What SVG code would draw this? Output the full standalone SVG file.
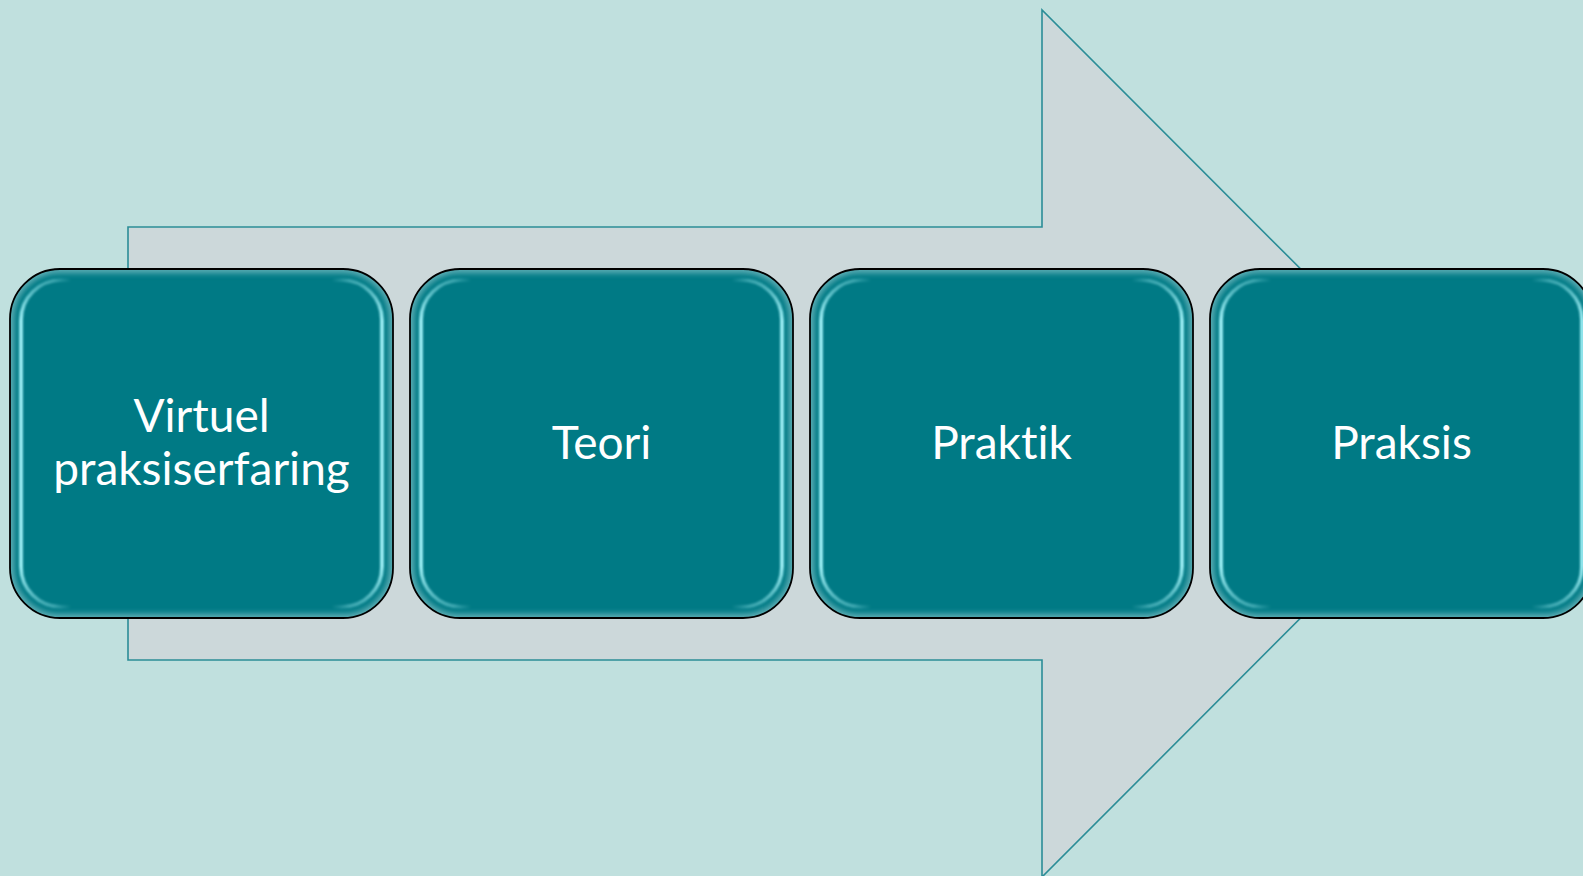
<svg xmlns="http://www.w3.org/2000/svg" width="1583" height="876" viewBox="0 0 1583 876">
  <style>
    .bg { fill: #C0E0DE; }
    .arrow { fill: #CCD8DA; stroke: #2B8D97; stroke-width: 1.6; }
    .box { fill: #007A85; stroke: none; }
    .edge { fill: none; stroke: #000; stroke-width: 1.8; }
    .rim { fill: none; stroke: #6FB8BE; stroke-width: 7; filter: url(#soft3); }
    .glint { fill: none; stroke: url(#glintGrad); stroke-width: 3.6; filter: url(#soft1); }
    .label { font-family: Lato, "Noto Sans", "Liberation Sans", sans-serif; font-size: 46px; fill: #FFFFFF; text-anchor: middle; font-variant-ligatures: none; font-feature-settings: "liga" 0, "clig" 0; }
  </style>
  <defs>
    <clipPath id="boxClip">
      <rect x="0" y="0" width="383" height="349" rx="50" ry="50"/>
    </clipPath>
    <filter id="soft3" x="-10%" y="-10%" width="120%" height="120%">
      <feGaussianBlur stdDeviation="3"/>
    </filter>
    <filter id="soft1" x="-10%" y="-10%" width="120%" height="120%">
      <feGaussianBlur stdDeviation="0.9"/>
    </filter>
    <!-- bright cyan streaks along the left and right inner sides -->
    <linearGradient id="glintGrad" x1="0" y1="0" x2="1" y2="0">
      <stop offset="0" stop-color="#A6F6FC" stop-opacity="1"/>
      <stop offset="0.09" stop-color="#A6F6FC" stop-opacity="0.95"/>
      <stop offset="0.14" stop-color="#A6F6FC" stop-opacity="0"/>
      <stop offset="0.86" stop-color="#A6F6FC" stop-opacity="0"/>
      <stop offset="0.91" stop-color="#A6F6FC" stop-opacity="0.95"/>
      <stop offset="1" stop-color="#A6F6FC" stop-opacity="1"/>
    </linearGradient>
    <!-- fades the streaks toward the top and bottom edges -->
    <linearGradient id="fadeGrad" x1="0" y1="0" x2="0" y2="1">
      <stop offset="0" stop-color="#fff" stop-opacity="0.2"/>
      <stop offset="0.15" stop-color="#fff" stop-opacity="1"/>
      <stop offset="0.85" stop-color="#fff" stop-opacity="1"/>
      <stop offset="1" stop-color="#fff" stop-opacity="0.2"/>
    </linearGradient>
    <mask id="fadeMask" maskUnits="userSpaceOnUse" x="0" y="0" width="383" height="349">
      <rect x="0" y="0" width="383" height="349" fill="url(#fadeGrad)"/>
    </mask>
    <!-- shared bevelled tile -->
    <g id="tile">
      <rect class="box" x="0" y="0" width="383" height="349" rx="50" ry="50"/>
      <g clip-path="url(#boxClip)">
        <rect class="rim" x="0" y="0" width="383" height="349" rx="50" ry="50"/>
        <rect class="glint" x="11" y="11" width="361" height="327" rx="40" ry="40" mask="url(#fadeMask)"/>
      </g>
      <rect class="edge" x="0" y="0" width="383" height="349" rx="50" ry="50"/>
    </g>
  </defs>

  <rect class="bg" x="0" y="0" width="1583" height="876"/>

  <!-- background process arrow -->
  <g id="connectors">
    <polygon class="arrow" points="128,227 1042,227 1042,10 1475,443.5 1042,877 1042,660 128,660"/>
  </g>

  <g id="node-virtuel" transform="translate(10,269)">
    <use href="#tile"/>
    <text class="label" x="191.5" y="163">Virtuel</text>
    <text class="label" x="191.5" y="216">praksiserfaring</text>
  </g>

  <g id="node-teori" transform="translate(410,269)">
    <use href="#tile"/>
    <text class="label" x="191.5" y="190">Teori</text>
  </g>

  <g id="node-praktik" transform="translate(810,269)">
    <use href="#tile"/>
    <text class="label" x="191.5" y="190">Praktik</text>
  </g>

  <g id="node-praksis" transform="translate(1210,269)">
    <use href="#tile"/>
    <text class="label" x="191.5" y="190">Praksis</text>
  </g>
</svg>
